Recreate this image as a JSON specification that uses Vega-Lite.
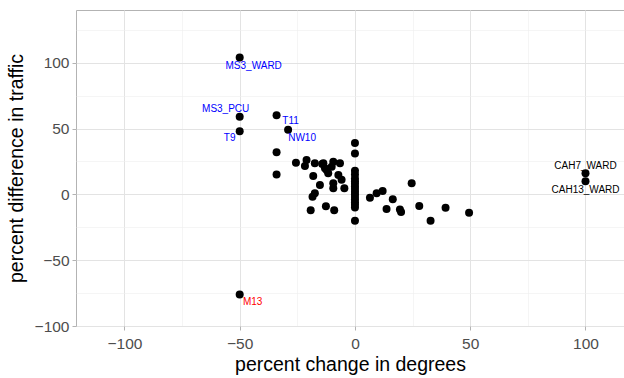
{
  "$schema": "https://vega.github.io/schema/vega-lite/v6.json",
  "width": 548,
  "height": 316,
  "autosize": {"type": "none"},
  "padding": {"left": 76, "top": 10, "right": 0, "bottom": 52},
  "background": "white",
  "config": {
    "font": "Liberation Sans",
    "view": {"stroke": "#B3B3B3", "strokeWidth": 1},
    "axis": {
      "domain": false,
      "gridColor": "#E3E3E3",
      "tickColor": "#B3B3B3",
      "tickSize": 4,
      "labelFontSize": 15.5,
      "labelColor": "#4D4D4D",
      "titleFontSize": 19.5,
      "titleFontWeight": "normal",
      "titleColor": "#000000"
    }
  },
  "data": {
    "values": [
      {"deg": -50, "traffic": 104, "name": "MS3_WARD"},
      {"deg": -50, "traffic": 59, "name": "MS3_PCU"},
      {"deg": -50, "traffic": 48, "name": "T9"},
      {"deg": -34, "traffic": 60, "name": "T11"},
      {"deg": -29, "traffic": 49, "name": "NW10"},
      {"deg": 100, "traffic": 16, "name": "CAH7_WARD"},
      {"deg": 100, "traffic": 10, "name": "CAH13_WARD"},
      {"deg": -50, "traffic": -76, "name": "M13"},
      {"deg": -34, "traffic": 32, "name": ""},
      {"deg": -34, "traffic": 15, "name": ""},
      {"deg": -25.6, "traffic": 24, "name": ""},
      {"deg": -21, "traffic": 26, "name": ""},
      {"deg": -21.7, "traffic": 21.5, "name": ""},
      {"deg": -17.4, "traffic": 23.6, "name": ""},
      {"deg": -14.2, "traffic": 23.1, "name": ""},
      {"deg": -13.7, "traffic": 23.6, "name": ""},
      {"deg": -13, "traffic": 19.8, "name": ""},
      {"deg": -12.3, "traffic": 18.5, "name": ""},
      {"deg": -10.1, "traffic": 21, "name": ""},
      {"deg": -9.4, "traffic": 24.8, "name": ""},
      {"deg": -6.5, "traffic": 23.6, "name": ""},
      {"deg": -11.6, "traffic": 16, "name": ""},
      {"deg": -7.2, "traffic": 14.7, "name": ""},
      {"deg": -18.1, "traffic": 14, "name": ""},
      {"deg": -5.8, "traffic": 11, "name": ""},
      {"deg": -9.4, "traffic": 8.4, "name": ""},
      {"deg": -15.2, "traffic": 7.1, "name": ""},
      {"deg": -9.4, "traffic": 4.6, "name": ""},
      {"deg": -4.6, "traffic": 4.6, "name": ""},
      {"deg": -17.4, "traffic": 0.8, "name": ""},
      {"deg": -18.4, "traffic": -1.8, "name": ""},
      {"deg": -19.2, "traffic": -12, "name": ""},
      {"deg": -12.6, "traffic": -9, "name": ""},
      {"deg": -9, "traffic": -12, "name": ""},
      {"deg": 0, "traffic": 39, "name": ""},
      {"deg": 0, "traffic": 31, "name": ""},
      {"deg": 0, "traffic": 18, "name": ""},
      {"deg": 0, "traffic": 15, "name": ""},
      {"deg": 0, "traffic": 12, "name": ""},
      {"deg": 0, "traffic": 10, "name": ""},
      {"deg": 0, "traffic": 8, "name": ""},
      {"deg": 0, "traffic": 6, "name": ""},
      {"deg": 0, "traffic": 4, "name": ""},
      {"deg": 0, "traffic": 2, "name": ""},
      {"deg": 0, "traffic": 0, "name": ""},
      {"deg": 0, "traffic": -2, "name": ""},
      {"deg": 0, "traffic": -4, "name": ""},
      {"deg": 0, "traffic": -6, "name": ""},
      {"deg": 0, "traffic": -8, "name": ""},
      {"deg": 0, "traffic": -10, "name": ""},
      {"deg": 0, "traffic": -20, "name": ""},
      {"deg": 6.5, "traffic": -2.6, "name": ""},
      {"deg": 9.4, "traffic": 0.8, "name": ""},
      {"deg": 12, "traffic": 2.5, "name": ""},
      {"deg": 16.4, "traffic": -3.8, "name": ""},
      {"deg": 13.7, "traffic": -11.2, "name": ""},
      {"deg": 19.5, "traffic": -11.5, "name": ""},
      {"deg": 20, "traffic": -13.5, "name": ""},
      {"deg": 24.6, "traffic": 8.4, "name": ""},
      {"deg": 27.9, "traffic": -8.9, "name": ""},
      {"deg": 32.8, "traffic": -20.1, "name": ""},
      {"deg": 39.3, "traffic": -10.2, "name": ""},
      {"deg": 49.5, "traffic": -14, "name": ""}
    ]
  },
  "encoding": {
    "x": {
      "field": "deg",
      "type": "quantitative",
      "title": "percent change in degrees",
      "scale": {"domain": [-121, 116.7], "nice": false, "zero": false},
      "axis": {
        "values": [-100, -75, -50, -25, 0, 25, 50, 75, 100],
        "labelExpr": "datum.value % 50 == 0 ? datum.label : ''",
        "tickOpacity": {"condition": {"test": "datum.value % 50 != 0", "value": 0}, "value": 1},
        "gridWidth": {"condition": {"test": "datum.value % 50 != 0", "value": 0.6}, "value": 1},
        "gridColor": {"condition": {"test": "datum.value % 50 != 0", "value": "#EFEFEF"}, "value": "#E3E3E3"},
        "labelPadding": 6,
        "titlePadding": 4
      }
    },
    "y": {
      "field": "traffic",
      "type": "quantitative",
      "title": "percent difference in traffic",
      "scale": {"domain": [-100, 140], "nice": false, "zero": false},
      "axis": {
        "values": [-100, -75, -50, -25, 0, 25, 50, 75, 100, 125],
        "labelExpr": "datum.value % 50 == 0 ? datum.label : ''",
        "tickOpacity": {"condition": {"test": "datum.value % 50 != 0", "value": 0}, "value": 1},
        "gridWidth": {"condition": {"test": "datum.value % 50 != 0", "value": 0.6}, "value": 1},
        "gridColor": {"condition": {"test": "datum.value % 50 != 0", "value": "#EFEFEF"}, "value": "#E3E3E3"},
        "labelPadding": 3,
        "titlePadding": 8
      }
    }
  },
  "layer": [
    {"mark": {"type": "circle", "size": 64, "color": "#000000", "opacity": 1}},
    {"transform": [{"filter": "datum.name == 'MS3_WARD'"}], "mark": {"type": "text", "fontSize": 10, "color": "#0000FF", "dx": 14, "dy": 9}, "encoding": {"text": {"field": "name"}}},
    {"transform": [{"filter": "datum.name == 'MS3_PCU'"}], "mark": {"type": "text", "fontSize": 10, "color": "#0000FF", "dx": -14, "dy": -8}, "encoding": {"text": {"field": "name"}}},
    {"transform": [{"filter": "datum.name == 'T9'"}], "mark": {"type": "text", "fontSize": 10, "color": "#0000FF", "dx": -10, "dy": 7}, "encoding": {"text": {"field": "name"}}},
    {"transform": [{"filter": "datum.name == 'T11'"}], "mark": {"type": "text", "fontSize": 10, "color": "#0000FF", "dx": 14, "dy": 6}, "encoding": {"text": {"field": "name"}}},
    {"transform": [{"filter": "datum.name == 'NW10'"}], "mark": {"type": "text", "fontSize": 10, "color": "#0000FF", "dx": 14, "dy": 8}, "encoding": {"text": {"field": "name"}}},
    {"transform": [{"filter": "datum.name == 'CAH7_WARD'"}], "mark": {"type": "text", "fontSize": 10, "color": "#000000", "dx": 0, "dy": -7}, "encoding": {"text": {"field": "name"}}},
    {"transform": [{"filter": "datum.name == 'CAH13_WARD'"}], "mark": {"type": "text", "fontSize": 10, "color": "#000000", "dx": 0, "dy": 9}, "encoding": {"text": {"field": "name"}}},
    {"transform": [{"filter": "datum.name == 'M13'"}], "mark": {"type": "text", "fontSize": 10, "color": "#FF0000", "dx": 13, "dy": 8}, "encoding": {"text": {"field": "name"}}}
  ]
}
